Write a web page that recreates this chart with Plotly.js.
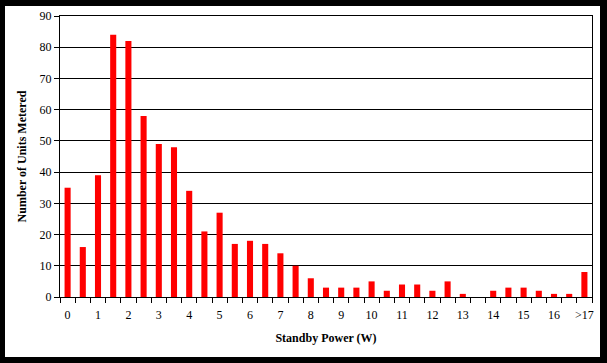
<!DOCTYPE html>
<html>
<head>
<meta charset="utf-8">
<script src="https://cdn.plot.ly/plotly-3.0.1.min.js"></script>
<style>
  html, body { margin: 0; padding: 0; background: #000; width: 607px; height: 363px; overflow: hidden; }
  #chart { position: absolute; left: 5px; top: 6px; width: 595px; height: 351px; background: #fff; }
</style>
</head>
<body>
<div id="chart"></div>
<script>
// Standby power bins (W)
const categories = ["0","0.5","1","1.5","2","2.5","3","3.5","4","4.5","5","5.5","6","6.5","7","7.5",
  "8","8.5","9","9.5","10","10.5","11","11.5","12","12.5","13","13.5","14","14.5","15","15.5","16","16.5",">17"];
// Number of units metered per bin
const unitCounts = [35,16,39,84,82,58,49,48,34,21,27,17,18,17,14,10,
  6,3,3,3,5,2,4,4,2,5,1,0,2,3,3,2,1,1,8];
// Tick labels: every whole watt plus the last bin
const tickLabels = categories.map(function (c, i) { return (i % 2 === 0) ? c : ""; });
const yTicks = [0,10,20,30,40,50,60,70,80,90];

const serif = "'Liberation Serif', 'Times New Roman', serif";

const trace = {
  type: "bar",
  x: categories,
  y: unitCounts,
  marker: { color: "#ff0000", line: { width: 0 } },
  hoverinfo: "x+y"
};

const layout = {
  width: 595,
  height: 351,
  margin: { l: 55, r: 8, t: 10, b: 60 },
  paper_bgcolor: "#ffffff",
  plot_bgcolor: "#ffffff",
  showlegend: false,
  bargap: 0.6,
  font: { family: serif, size: 12, color: "#000" },
  xaxis: {
    type: "category",
    tickmode: "array",
    tickvals: categories,
    ticktext: tickLabels,
    tickson: "boundaries",
    ticks: "outside",
    ticklen: 5,
    tickwidth: 1,
    tickcolor: "#000",
    ticklabelstandoff: 7,
    showline: true,
    linecolor: "#000",
    linewidth: 1,
    mirror: true,
    showgrid: false,
    tickangle: 0,
    tickfont: { family: serif, size: 12, color: "#000" },
    title: { text: "<b>Standby Power (W)</b>", font: { family: serif, size: 12, color: "#000" }, standoff: 12 },
    automargin: false
  },
  yaxis: {
    range: [0, 90],
    tickmode: "array",
    tickvals: yTicks,
    ticks: "outside",
    ticklen: 5,
    tickwidth: 1,
    tickcolor: "#000",
    showline: true,
    linecolor: "#000",
    linewidth: 1,
    mirror: true,
    showgrid: true,
    gridcolor: "#000",
    gridwidth: 1,
    zeroline: false,
    tickfont: { family: serif, size: 12, color: "#000" },
    title: { text: "<b>Number of Units Metered</b>", font: { family: serif, size: 12, color: "#000" }, standoff: 10 },
    automargin: false
  }
};

Plotly.newPlot("chart", [trace], layout, { displayModeBar: false, staticPlot: true });
</script>
</body>
</html>
